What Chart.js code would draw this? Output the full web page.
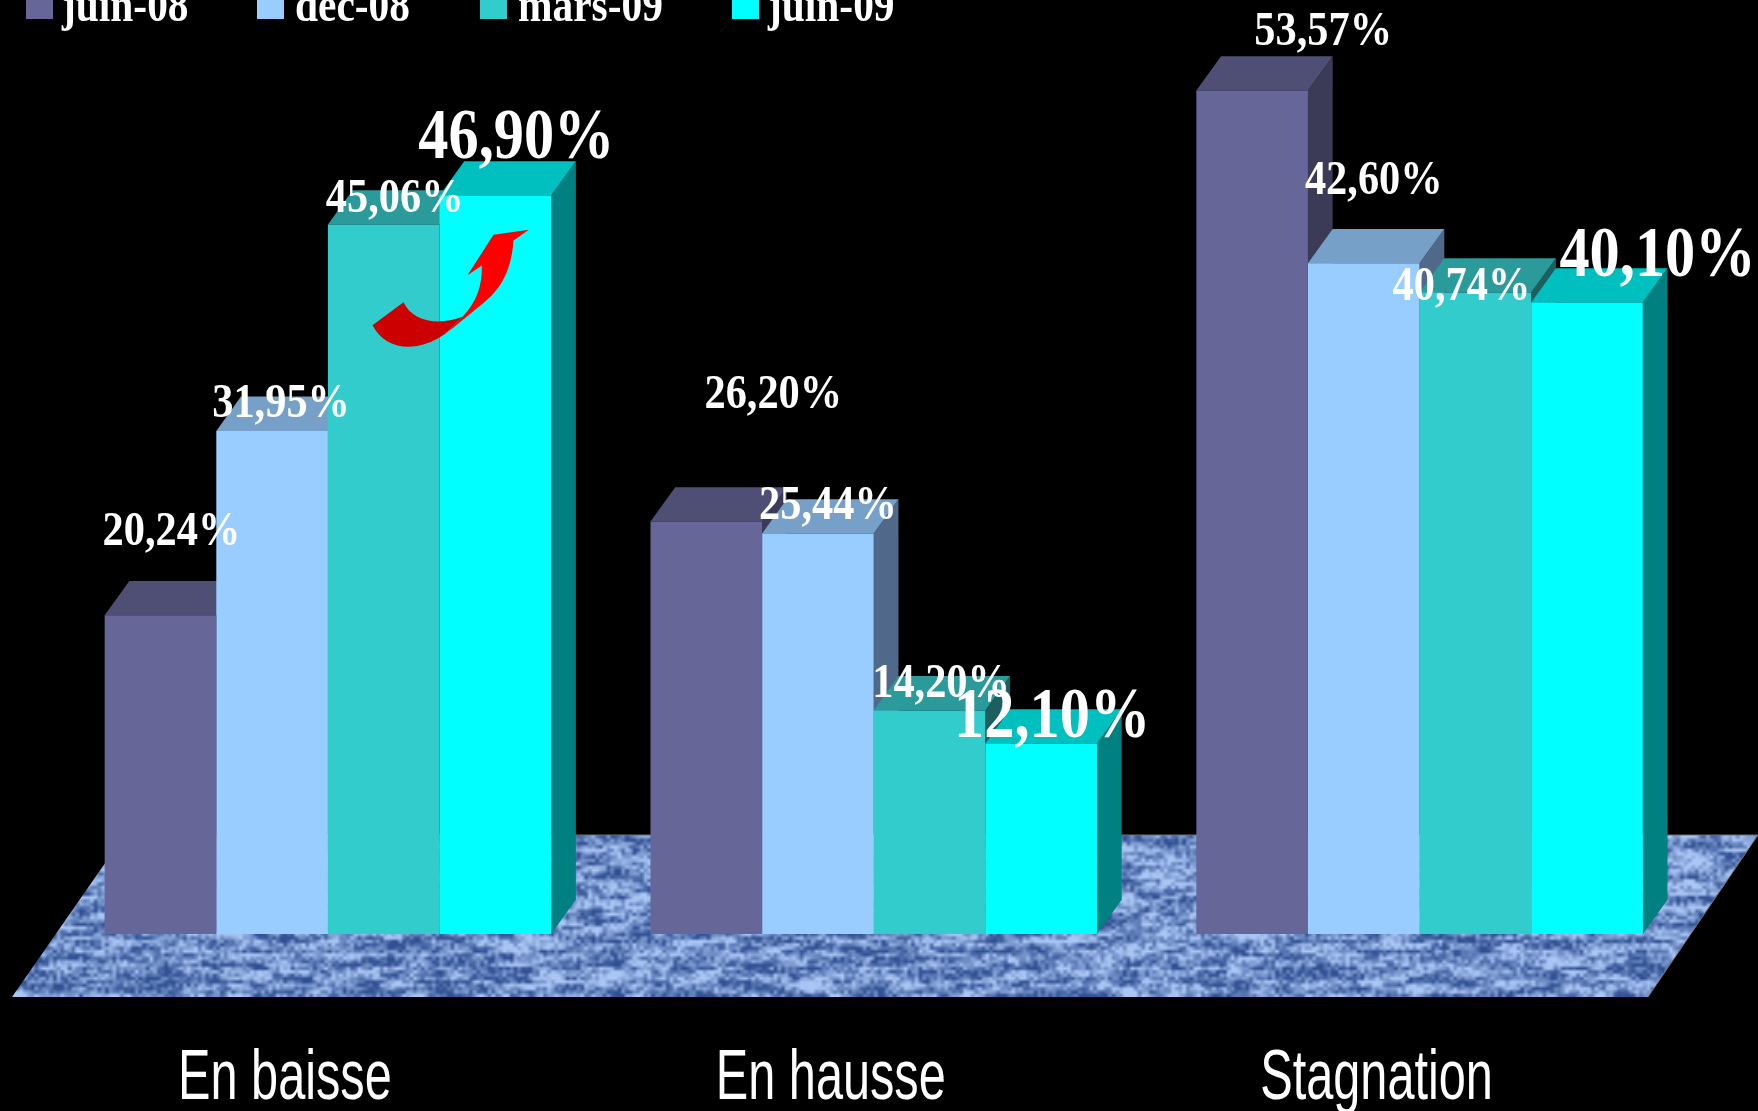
<!DOCTYPE html>
<html>
<head>
<meta charset="utf-8">
<title>En baisse / En hausse / Stagnation</title>
<script src="https://cdn.jsdelivr.net/npm/chart.js@4"></script>
<style>
  html, body { margin: 0; padding: 0; background: #000; overflow: hidden; }
  canvas { display: block; }
</style>
</head>
<body>
<canvas id="chart" width="1758" height="1111"></canvas>
<script>
// data
const categories = ["En baisse", "En hausse", "Stagnation"];
const seriesNames = ["juin-08", "dec-08", "mars-09", "juin-09"];
const juin08 = [20.24, 26.20, 53.57];
const dec08 = [31.95, 25.44, 42.60];
const mars09 = [45.06, 14.20, 40.74];
const juin09 = [46.90, 12.10, 40.10];

// styles
const frontColors = ["#666699", "#99ccff", "#33cccc", "#00ffff"];
const topColors = ["#4f4f76", "#77a0c8", "#2a9a9a", "#00bfbf"];
const sideColors = ["#3b3b58", "#50698a", "#1d5f5f", "#008080"];
const depthX = 24.7, depthY = 34.3;

// label offset from the top centre of each bar [dx, dy], series then category
const labelOffsets = [
    [[11, -70], [67, -113], [71, -45]],
    [[9, -14], [10, -14], [10, -69]],
    [[11, -12], [11.5, -13], [-14, 7]],
    [[21, -38], [11, -6], [70.5, -27]]
];

// legend positions
const legendSwatchX = [26, 257, 480, 732];
const legendTextX = [62, 295, 518, 768];

// text squeezed in x, the source picture was stretched
function squeezedText(ctx, text, x, y, font, sx, align) {
    ctx.save();
    ctx.font = font;
    ctx.fillStyle = "#fff";
    ctx.textAlign = align;
    ctx.textBaseline = "alphabetic";
    ctx.translate(x, y);
    ctx.scale(sx, 1);
    ctx.fillText(text, 0, 0);
    ctx.restore();
}

// --- floor texture, deterministic noise ---
function hash(x, y) {
    const s = Math.sin(x * 127.1 + y * 311.7) * 43758.5453;
    return s - Math.floor(s);
}
function smooth(x, y) {
    const xi = Math.floor(x), yi = Math.floor(y);
    let fx = x - xi, fy = y - yi;
    fx = fx * fx * (3 - 2 * fx);
    fy = fy * fy * (3 - 2 * fy);
    const a = hash(xi, yi), b = hash(xi + 1, yi), c = hash(xi, yi + 1), d = hash(xi + 1, yi + 1);
    return (a * (1 - fx) + b * fx) * (1 - fy) + (c * (1 - fx) + d * fx) * fy;
}
function floorTexture(w, h) {
    const off = document.createElement("canvas");
    off.width = w;
    off.height = h;
    const c = off.getContext("2d");
    const img = c.createImageData(w, h);
    for (let y = 0; y < h; y++) {
        for (let x = 0; x < w; x++) {
            let v = 0.58 * smooth(x / 6, y / 1.3) + 0.42 * hash(x, y);
            v = Math.min(1, Math.max(0, (v - 0.5) * 2 + 0.54));
            const i = (y * w + x) * 4;
            img.data[i] = 48 + v * 122;
            img.data[i + 1] = 80 + v * 118;
            img.data[i + 2] = 146 + v * 99;
            img.data[i + 3] = 255;
        }
    }
    c.putImageData(img, 0, 0);
    return off;
}
const texture = floorTexture(470, 48);

function drawFloor(ctx) {
    const x0 = 12, x1 = 1648, backL = 124.6, backR = 1758, yF = 997, yB = 835;
    ctx.save();
    ctx.beginPath();
    ctx.moveTo(x0, yF);
    ctx.lineTo(backL, yB);
    ctx.lineTo(backR, yB);
    ctx.lineTo(x1, yF);
    ctx.closePath();
    ctx.save();
    ctx.clip();
    ctx.imageSmoothingEnabled = true;
    ctx.drawImage(texture, x0, yB, backR - x0, yF - yB);
    ctx.restore();
    ctx.strokeStyle = "#6f7078";
    ctx.lineWidth = 1;
    ctx.beginPath();
    ctx.moveTo(backL, yB);
    ctx.lineTo(backR, yB);
    ctx.lineTo(x1, yF);
    ctx.stroke();
    ctx.restore();
}

function drawExtrusions(chart, ctx) {
    chart.data.datasets.forEach((ds, d) => {
        const bars = chart.getDatasetMeta(d).data;
        bars.forEach(bar => {
            const l = bar.x - bar.width / 2, r = bar.x + bar.width / 2, t = bar.y, b = bar.base;
            ctx.fillStyle = sideColors[d];
            ctx.beginPath();
            ctx.moveTo(r, t);
            ctx.lineTo(r + depthX, t - depthY);
            ctx.lineTo(r + depthX, b - depthY);
            ctx.lineTo(r, b);
            ctx.closePath();
            ctx.fill();
            ctx.fillStyle = topColors[d];
            ctx.beginPath();
            ctx.moveTo(l, t);
            ctx.lineTo(l + depthX, t - depthY);
            ctx.lineTo(r + depthX, t - depthY);
            ctx.lineTo(r, t);
            ctx.closePath();
            ctx.fill();
        });
    });
}

// red arrow, anchored on the juin-09 "En baisse" bar
function drawArrow(chart, ctx) {
    const bar = chart.getDatasetMeta(3).data[0];
    ctx.save();
    ctx.translate(bar.x - 194.5, bar.y - 106);
    ctx.scale(1 / 3, 1 / 3);
    ctx.fillStyle = "#ff0000";
    ctx.beginPath();
    ctx.moveTo(485, 682);
    ctx.bezierCurveTo(525, 640, 545, 590, 543, 528);
    ctx.lineTo(500, 557);
    ctx.lineTo(578, 436);
    ctx.lineTo(684, 421);
    ctx.lineTo(638, 453);
    ctx.bezierCurveTo(630, 560, 590, 610, 530, 655);
    ctx.bezierCurveTo(500, 680, 465, 710, 430, 735);
    ctx.closePath();
    ctx.fill();
    ctx.fillStyle = "#cc0000";
    ctx.beginPath();
    ctx.moveTo(215, 707);
    ctx.lineTo(308, 638);
    ctx.bezierCurveTo(335, 695, 410, 710, 485, 682);
    ctx.lineTo(430, 735);
    ctx.bezierCurveTo(350, 790, 255, 785, 215, 707);
    ctx.closePath();
    ctx.fill();
    ctx.restore();
}

const decor = {
    id: "decor",
    beforeDatasetsDraw(chart) {
        drawFloor(chart.ctx);
        drawExtrusions(chart, chart.ctx);
    },
    afterDatasetsDraw(chart) {
        const ctx = chart.ctx;
        drawArrow(chart, ctx);

        // value labels
        chart.data.datasets.forEach((ds, d) => {
            const big = d === 3;
            chart.getDatasetMeta(d).data.forEach((bar, i) => {
                const txt = ds.data[i].toFixed(2).replace(".", ",") + "%";
                const off = labelOffsets[d][i];
                squeezedText(ctx, txt, bar.x + off[0], bar.y + off[1],
                    "bold " + (big ? 71 : 49) + "px 'Liberation Serif'", big ? 0.85 : 0.865, "center");
            });
        });

        // category names, shifted to the front edge of the floor
        categories.forEach((name, i) => {
            const x = chart.scales.x.getPixelForValue(i) - 43;
            squeezedText(ctx, name, x, 1099, "70px 'Liberation Sans'", 0.695, "center");
        });

        // legend, cut by the top of the picture
        seriesNames.forEach((name, d) => {
            ctx.fillStyle = frontColors[d];
            ctx.fillRect(legendSwatchX[d], 0, 27, 19);
            squeezedText(ctx, name, legendTextX[d], 21, "bold 49px 'Liberation Serif'", 0.845, "left");
        });
    }
};

const seriesValues = [juin08, dec08, mars09, juin09];

new Chart(document.getElementById("chart").getContext("2d"), {
    type: "bar",
    data: {
        labels: categories,
        datasets: seriesNames.map((name, d) => ({
            label: name,
            data: seriesValues[d],
            backgroundColor: frontColors[d],
            borderWidth: 0,
            categoryPercentage: 0.818,
            barPercentage: 1
        }))
    },
    options: {
        responsive: false,
        animation: false,
        devicePixelRatio: 1,
        layout: { padding: { left: 55, right: 65.5, top: 5, bottom: 177 } },
        plugins: { legend: { display: false }, tooltip: { enabled: false } },
        scales: {
            x: { display: false },
            y: { display: false, min: 0, max: 59 }
        }
    },
    plugins: [decor]
});
</script>
</body>
</html>
